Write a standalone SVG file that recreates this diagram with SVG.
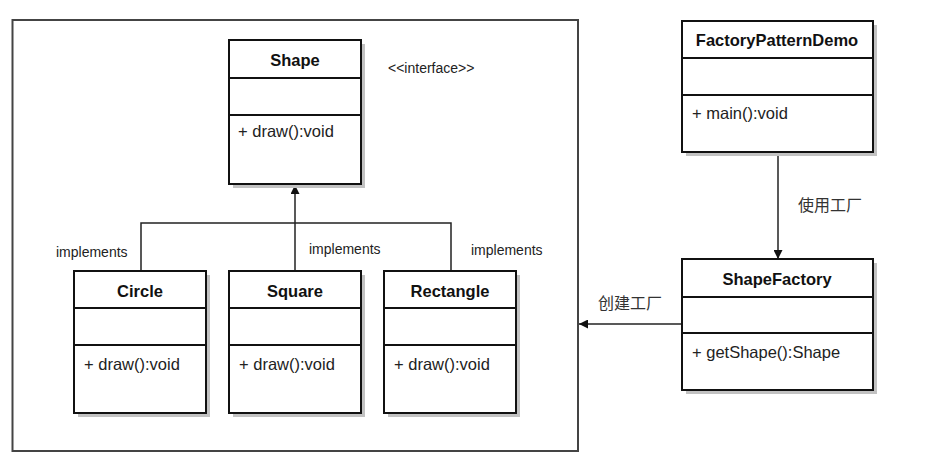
<svg xmlns="http://www.w3.org/2000/svg" width="926" height="458" viewBox="0 0 926 458">
<style>
.box{fill:#fff;stroke:#111;stroke-width:2}
.shadow{fill:#c2c2c2}
.div{stroke:#111;stroke-width:2}
.title{font-family:"Liberation Sans",Arial,sans-serif;font-size:16.5px;font-weight:bold;fill:#111;text-anchor:middle}
.op{font-family:"Liberation Sans",Arial,sans-serif;font-size:16.5px;fill:#222}
.lbl{font-family:"Liberation Sans",Arial,sans-serif;font-size:14px;fill:#222}
.cjk{font-family:"Liberation Sans","Noto Sans CJK SC",sans-serif;font-size:16px;fill:#333}
.edge{stroke:#222;stroke-width:1.5;fill:none}
</style>
<defs>
<marker id="arr" viewBox="0 0 10 10" refX="10" refY="5" markerWidth="9" markerHeight="9" markerUnits="userSpaceOnUse" orient="auto">
<path d="M0,0 L10,5 L0,10 z" fill="#111"/>
</marker>
</defs>
<rect width="926" height="458" fill="#fff"/>
<g id="container">
<rect x="12.5" y="20" width="565.5" height="431" fill="none" stroke="#444" stroke-width="2"/>
</g>
<g id="connectors">
<path class="edge" d="M295,271 V185" marker-end="url(#arr)"/>
<path class="edge" d="M141,271 V223 H451 V271"/>
<path class="edge" d="M778,152 V259" marker-end="url(#arr)"/>
<path class="edge" d="M682,324 H579" marker-end="url(#arr)"/>
<text class="lbl" x="56" y="257">implements</text>
<text class="lbl" x="309" y="254">implements</text>
<text class="lbl" x="471" y="255">implements</text>
<text class="cjk" x="798" y="211">使用工厂</text>
<text class="cjk" x="598" y="309">创建工厂</text>
</g>
<g id="interface-label">
<text class="lbl" x="388" y="73" font-size="13">&lt;&lt;interface&gt;&gt;</text>
</g>
<g id="Shape">
<rect class="shadow" x="233" y="44" width="132" height="144"/>
<rect class="box" x="229" y="40" width="132" height="144"/>
<line class="div" x1="229" y1="78" x2="361" y2="78"/>
<line class="div" x1="229" y1="115" x2="361" y2="115"/>
<text class="title" x="295" y="66">Shape</text>
<text class="op" x="238" y="137">+ draw():void</text>
</g>
<g id="Circle">
<rect class="shadow" x="78" y="275" width="132" height="142"/>
<rect class="box" x="74" y="271" width="132" height="142"/>
<line class="div" x1="74" y1="308" x2="206" y2="308"/>
<line class="div" x1="74" y1="345" x2="206" y2="345"/>
<text class="title" x="140" y="297">Circle</text>
<text class="op" x="84" y="370">+ draw():void</text>
</g>
<g id="Square">
<rect class="shadow" x="233" y="275" width="132" height="142"/>
<rect class="box" x="229" y="271" width="132" height="142"/>
<line class="div" x1="229" y1="308" x2="361" y2="308"/>
<line class="div" x1="229" y1="345" x2="361" y2="345"/>
<text class="title" x="295" y="297">Square</text>
<text class="op" x="239" y="370">+ draw():void</text>
</g>
<g id="Rectangle">
<rect class="shadow" x="388" y="275" width="132" height="142"/>
<rect class="box" x="384" y="271" width="132" height="142"/>
<line class="div" x1="384" y1="308" x2="516" y2="308"/>
<line class="div" x1="384" y1="345" x2="516" y2="345"/>
<text class="title" x="450" y="297">Rectangle</text>
<text class="op" x="394" y="370">+ draw():void</text>
</g>
<g id="FactoryPatternDemo">
<rect class="shadow" x="686" y="25" width="191" height="131"/>
<rect class="box" x="682" y="21" width="191" height="131"/>
<line class="div" x1="682" y1="58" x2="873" y2="58"/>
<line class="div" x1="682" y1="95" x2="873" y2="95"/>
<text class="title" x="777" y="46">FactoryPatternDemo</text>
<text class="op" x="692" y="119">+ main():void</text>
</g>
<g id="ShapeFactory">
<rect class="shadow" x="686" y="263" width="191" height="131"/>
<rect class="box" x="682" y="259" width="191" height="131"/>
<line class="div" x1="682" y1="297" x2="873" y2="297"/>
<line class="div" x1="682" y1="333" x2="873" y2="333"/>
<text class="title" x="777" y="285">ShapeFactory</text>
<text class="op" x="692" y="358">+ getShape():Shape</text>
</g>
</svg>
